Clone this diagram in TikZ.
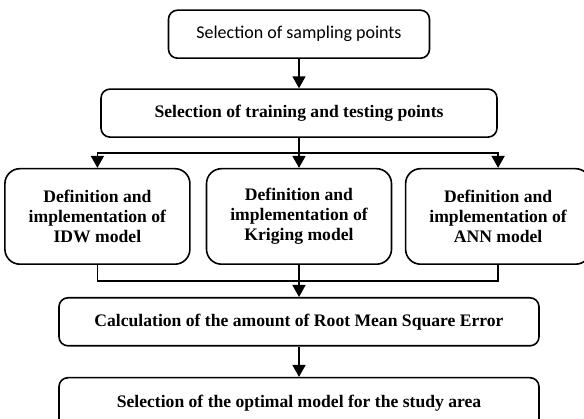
\documentclass[tikz,border=0pt]{standalone}
\usepackage{fontspec}
\setmainfont{Liberation Serif}
\newfontfamily\calfont{Carlito}
\usetikzlibrary{arrows.meta,positioning,calc}

\begin{document}
\begin{tikzpicture}[x=1pt, y=1pt, line width=1.6pt, >={Triangle[length=12pt,width=13pt]},
  box/.style={draw, rounded corners=9pt, align=center, inner sep=0pt, minimum height=48pt, font=\fontsize{17.6}{20}\selectfont\bfseries},
  model/.style={box, rounded corners=15pt, minimum width=185pt, minimum height=95.5pt}]
\useasboundingbox (0,0) rectangle (584,419);
\node[box, minimum width=261pt, font=\calfont\fontsize{18}{20}\selectfont] (samp) at (299,384.8) {Selection of sampling points};
\node[box, below=29.3pt of samp, minimum width=396pt] (train) {Selection of training and testing points};
\node[model, below=30pt of train] (krig) {Definition and\\implementation of\\Kriging model};
\node[model, left=15pt of krig] (idw) {Definition and\\implementation of\\IDW model};
\node[model, right=12.5pt of krig] (ann) {Definition and\\implementation of\\ANN model};
\node[box, below=32pt of krig, minimum width=480pt] (rmse) {Calculation of the amount of Root Mean Square Error};
\node[box, below=30.3pt of rmse, minimum width=480pt, minimum height=52pt] (best) {Selection of the optimal model for the study area};
\coordinate (split) at ($(train.south)!0.5!(krig.north)$);
\coordinate (merge) at ($(krig.south)!0.5!(rmse.north)$);
\draw[->] (samp) -- (train);
\draw (train) -- (split);
\draw[->] (split) -| (idw.north);
\draw[->] (split) -- (krig);
\draw[->] (split) -| (ann.north);
\draw (idw.south) |- (merge) -| (ann.south);
\draw[->] (krig) -- (rmse);
\draw[->] (rmse) -- (best);
\end{tikzpicture}
\end{document}
